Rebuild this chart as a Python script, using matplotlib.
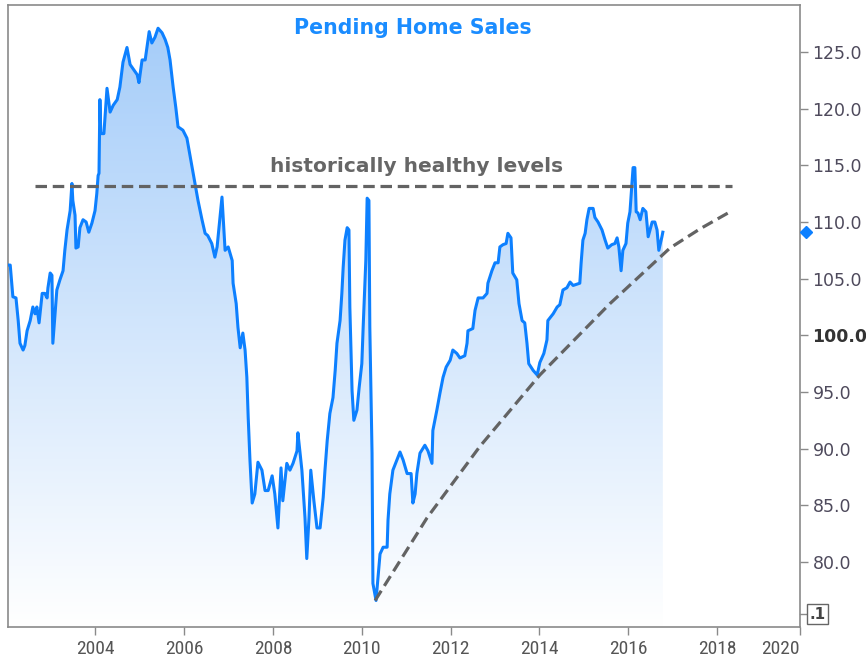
import matplotlib
matplotlib.use('Agg')
import matplotlib.pyplot as plt
import numpy as np
from matplotlib import font_manager
from matplotlib.colors import LinearSegmentedColormap
from matplotlib.transforms import blended_transform_factory

# Pending home sales index (decimal years, index)
years = [
    2002.03, 2002.08, 2002.14, 2002.21, 2002.26, 2002.30, 2002.37, 2002.41, 2002.46, 2002.53,
    2002.59, 2002.64, 2002.68, 2002.73, 2002.80, 2002.86, 2002.91, 2002.93, 2002.98, 2003.02,
    2003.04, 2003.09, 2003.13, 2003.20, 2003.27, 2003.31, 2003.36, 2003.43, 2003.47, 2003.49,
    2003.54, 2003.56, 2003.61, 2003.65, 2003.72, 2003.79, 2003.85, 2003.92, 2003.99, 2004.03,
    2004.06, 2004.08, 2004.10, 2004.12, 2004.19, 2004.26, 2004.33, 2004.40, 2004.49, 2004.55,
    2004.62, 2004.71, 2004.78, 2004.87, 2004.94, 2004.98, 2005.05, 2005.12, 2005.16, 2005.21,
    2005.27, 2005.34, 2005.41, 2005.50, 2005.57, 2005.63, 2005.68, 2005.75, 2005.81, 2005.86,
    2005.97, 2006.06, 2006.11, 2006.17, 2006.24, 2006.31, 2006.40, 2006.47, 2006.53, 2006.62,
    2006.69, 2006.74, 2006.80, 2006.85, 2006.92, 2006.99, 2007.08, 2007.10, 2007.17, 2007.21,
    2007.26, 2007.32, 2007.37, 2007.41, 2007.44, 2007.48, 2007.53, 2007.59, 2007.66, 2007.75,
    2007.82, 2007.89, 2007.98, 2008.04, 2008.11, 2008.18, 2008.22, 2008.31, 2008.38, 2008.45,
    2008.54, 2008.56, 2008.65, 2008.72, 2008.76, 2008.81, 2008.85, 2008.92, 2008.99, 2009.06,
    2009.13, 2009.17, 2009.22, 2009.28, 2009.35, 2009.40, 2009.44, 2009.51, 2009.55, 2009.58,
    2009.62, 2009.67, 2009.71, 2009.73, 2009.78, 2009.82, 2009.89, 2009.94, 2010.00, 2010.03,
    2010.09, 2010.12, 2010.16, 2010.18, 2010.23, 2010.25, 2010.32, 2010.36, 2010.41, 2010.48,
    2010.57, 2010.59, 2010.63, 2010.70, 2010.79, 2010.86, 2010.93, 2011.02, 2011.11, 2011.15,
    2011.20, 2011.24, 2011.31, 2011.42, 2011.49, 2011.58, 2011.60, 2011.69, 2011.76, 2011.83,
    2011.90, 2011.99, 2012.05, 2012.14, 2012.21, 2012.32, 2012.37, 2012.39, 2012.50, 2012.55,
    2012.62, 2012.73, 2012.82, 2012.84, 2012.93, 2013.00, 2013.07, 2013.11, 2013.18, 2013.25,
    2013.29, 2013.36, 2013.40, 2013.49, 2013.54, 2013.61, 2013.67, 2013.72, 2013.76, 2013.86,
    2013.95, 2014.01, 2014.10, 2014.17, 2014.19, 2014.31, 2014.40, 2014.46, 2014.53, 2014.62,
    2014.69, 2014.76, 2014.91, 2014.94, 2014.98, 2015.03, 2015.07, 2015.12, 2015.21, 2015.25,
    2015.32, 2015.41, 2015.48, 2015.54, 2015.63, 2015.70, 2015.75, 2015.79, 2015.84, 2015.88,
    2015.95, 2015.99, 2016.04, 2016.11, 2016.15, 2016.18, 2016.22, 2016.27, 2016.33, 2016.40,
    2016.45, 2016.54, 2016.60, 2016.65, 2016.69, 2016.76, 2016.78,
]
index_values = [
    106.2, 106.2, 103.4, 103.3, 101.3, 99.3, 98.7, 99.1, 100.4, 101.3,
    102.5, 101.9, 102.5, 101.1, 103.7, 103.7, 103.3, 104.2, 105.5, 105.3,
    99.3, 101.9, 104.0, 104.9, 105.7, 107.5, 109.3, 111.0, 113.4, 111.9,
    110.6, 107.7, 107.8, 109.5, 110.2, 110.0, 109.1, 109.9, 111.0, 112.5,
    114.1, 114.3, 120.8, 117.8, 117.8, 121.8, 119.7, 120.3, 120.8, 121.9,
    124.1, 125.4, 123.9, 123.4, 123.0, 122.3, 124.3, 124.3, 125.4, 126.8,
    125.8, 126.3, 127.1, 126.7, 126.1, 125.4, 124.3, 121.9, 120.1, 118.4,
    118.1, 117.4, 116.3, 115.0, 113.4, 111.9, 110.2, 109.0, 108.8, 108.1,
    106.9, 107.8, 110.2, 112.2, 107.5, 107.8, 106.6, 104.6, 102.8, 100.7,
    98.9, 100.2, 98.7, 96.3, 92.8, 89.0, 85.2, 86.0, 88.8, 88.1,
    86.3, 86.3, 87.6, 86.0, 83.0, 88.3, 85.4, 88.7, 88.1, 88.7,
    89.8, 91.4, 88.1, 83.9, 80.3, 83.9, 88.1, 85.4, 83.0, 83.0,
    85.7, 88.1, 90.7, 93.1, 94.5, 96.9, 99.3, 101.3, 103.7, 106.0,
    108.4, 109.5, 109.3, 102.5, 95.1, 92.5, 93.4, 95.4, 97.5, 100.7,
    106.6, 112.1, 111.9, 100.7, 89.6, 78.1, 76.6, 78.4, 80.7, 81.3,
    81.3, 83.7, 86.0, 88.1, 89.0, 89.7, 89.0, 87.8, 87.8, 85.2,
    86.0, 87.8, 89.6, 90.3, 89.8, 88.7, 91.6, 93.4, 94.9, 96.3,
    97.2, 97.8, 98.7, 98.4, 98.0, 98.2, 99.3, 100.4, 100.6, 102.2,
    103.3, 103.3, 103.7, 104.6, 105.7, 106.4, 106.4, 107.8, 108.0, 108.1,
    109.0, 108.6, 105.5, 104.9, 102.8, 101.3, 101.1, 99.3, 97.5, 96.9,
    96.5, 97.6, 98.4, 99.6, 101.3, 101.9, 102.5, 102.7, 104.0, 104.2,
    104.7, 104.4, 104.6, 106.4, 108.4, 109.0, 110.2, 111.2, 111.2, 110.4,
    110.0, 109.3, 108.4, 107.7, 108.0, 108.1, 108.6, 107.8, 105.7, 107.5,
    108.1, 109.9, 110.9, 114.8, 114.8, 110.9, 110.8, 110.2, 111.2, 110.9,
    108.7, 110.0, 110.0, 109.3, 107.5, 108.7, 109.1,
]

# rising support curve
trend_years = [2010.30, 2011.47, 2012.66, 2014.01, 2015.59, 2016.94, 2017.62, 2018.34]
trend_values = [76.6, 83.9, 90.2, 96.5, 102.8, 107.7, 109.4, 111.0]

healthy_level = 113.2
healthy_start, healthy_end = 2002.64, 2018.33

x_ticks = [2004, 2006, 2008, 2010, 2012, 2014, 2016, 2018]
y_ticks = [80, 85, 90, 95, 100, 105, 110, 115, 120, 125]

line_blue = '#0d80ff'
dash_gray = '#636363'

# narrow font for the date axis, if one is installed
installed = {f.name for f in font_manager.fontManager.ttflist}
narrow = None
for cand in ['Liberation Sans Narrow', 'DejaVu Sans Condensed', 'Roboto Condensed',
             'Open Sans Condensed', 'Noto Sans Condensed']:
    if cand in installed:
        narrow = cand
        break
x_font = [narrow, 'DejaVu Sans'] if narrow else ['DejaVu Sans']
x_size = 14 if narrow else 11

fig = plt.figure(figsize=(8.66, 6.6), dpi=100)
ax = fig.add_axes([8 / 866, 1 - 627 / 660, (800 - 8) / 866, (627 - 5) / 660])

x_min, x_max = 2002.03, 2019.87
y_min, y_max = 74.26, 129.15
ax.set_xlim(x_min, x_max)
ax.set_ylim(y_min, y_max)

# gradient fill under the series
grad = np.linspace(1, 0, 256).reshape(-1, 1)
cmap = LinearSegmentedColormap.from_list('fade', ['#ffffff', '#a2cbf9'])
im = ax.imshow(grad, cmap=cmap, aspect='auto', origin='upper',
               extent=[x_min, x_max, y_min, y_max], zorder=1)
poly = ax.fill_between(years, index_values, y_min, color='none', lw=0)
im.set_clip_path(poly.get_paths()[0], transform=ax.transData)

ax.plot(years, index_values, color=line_blue, lw=2.2, zorder=3)

# dashed guide lines
ax.plot([healthy_start, healthy_end], [healthy_level, healthy_level],
        color=dash_gray, lw=2.3, dashes=(3.6, 1.8), zorder=4)
ax.plot(trend_years, trend_values, color=dash_gray, lw=2.3,
        dashes=(3.6, 1.8), zorder=4)
ax.text(2011.24, 114.9, 'historically healthy levels', ha='center', va='center',
        fontsize=14.5, fontweight='bold', color='#666666')

ax.text(0.511, 0.963, 'Pending Home Sales', transform=ax.transAxes, ha='center',
        va='center', fontsize=14.8, fontweight='bold', color='#1a8cff')

# axes styling
for s in ax.spines.values():
    s.set_color('#8a8a8a')
    s.set_linewidth(1.2)

ax.yaxis.tick_right()
ax.set_yticks(y_ticks)
ax.set_yticklabels([f'{v:.1f}' for v in y_ticks])
ax.tick_params(axis='y', direction='out', length=6, width=1, color='#8a8a8a',
               labelsize=12.5, labelcolor='#4e4a5c', pad=3)
for lab in ax.get_yticklabels():
    if lab.get_text() == '100.0':
        lab.set_fontweight('bold')
        lab.set_color('#333333')

# the last date label sits against the right border
ax.set_xticks(x_ticks + [x_max])
ax.set_xticklabels([str(v) for v in x_ticks] + ['2020'], family=x_font)
ax.tick_params(axis='x', direction='out', length=6, width=1, color='#8a8a8a',
               labelsize=x_size, labelcolor='#555555', pad=3)
ax.get_xticklabels()[-1].set_horizontalalignment('right')

# last value marker on the price axis
tr = blended_transform_factory(ax.transAxes, ax.transData)
ax.plot([1.007], [index_values[-1]], marker='D', ms=6, color=line_blue,
        transform=tr, clip_on=False, zorder=5)
ax.plot([1.0, 1.007], [75.4, 75.4], color='#8a8a8a', lw=1, transform=tr, clip_on=False)
ax.text(1.012, 75.4, '.1', transform=tr, ha='left', va='center', fontsize=11,
        fontweight='bold', color='#444444',
        bbox=dict(boxstyle='square,pad=0.15', fc='white', ec='#666666', lw=1))

fig.savefig('out.png', dpi=100)
